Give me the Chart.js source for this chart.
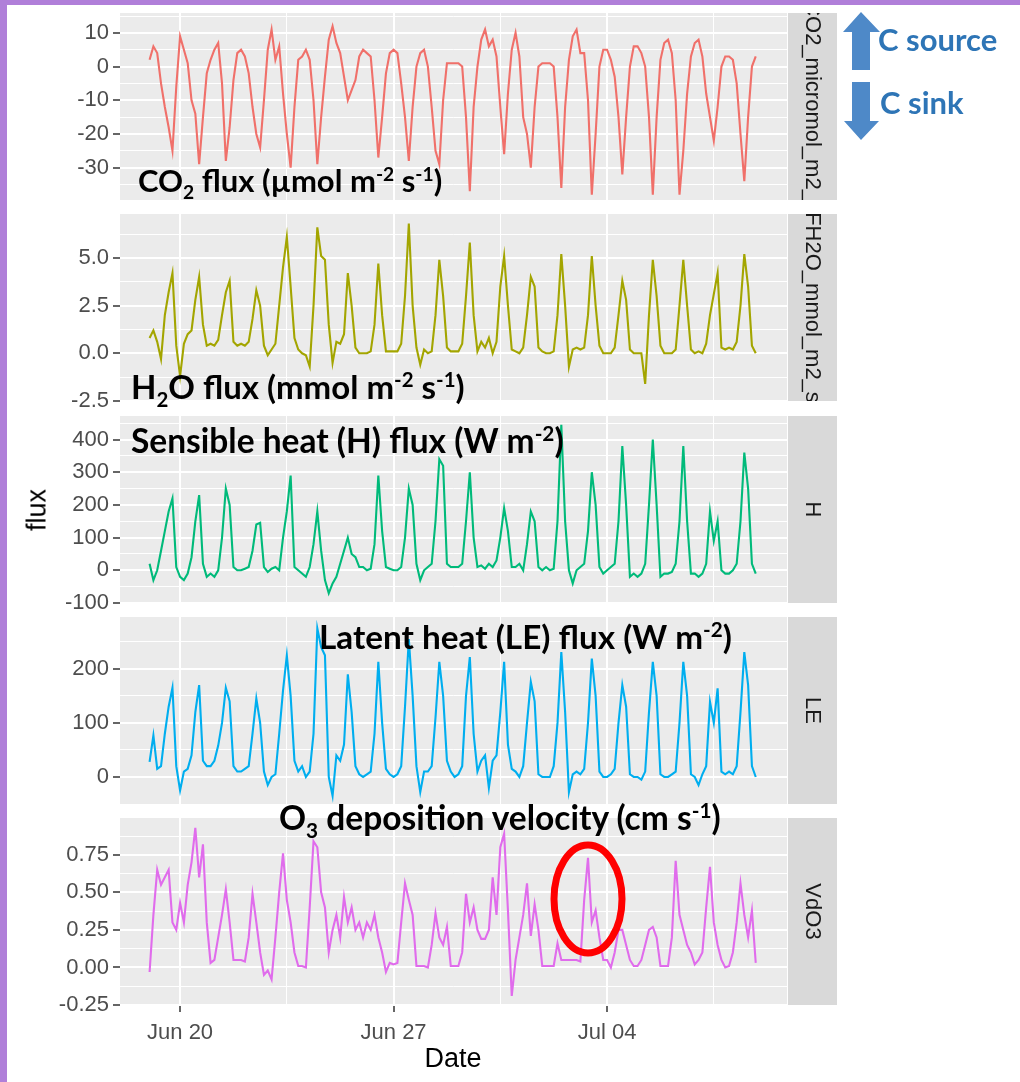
<!DOCTYPE html>
<html>
<head>
<meta charset="utf-8">
<script src="https://cdn.jsdelivr.net/npm/chart.js@4.4.1/dist/chart.umd.min.js"></script>
<style>
  html, body { margin: 0; padding: 0; background: #ffffff; }
  body { width: 1020px; height: 1082px; position: relative; overflow: hidden; font-family: "Liberation Sans", Arial, sans-serif; }
  canvas.cv { position: absolute; left: 0; }
  .ann { position: absolute; font-family: Lato, "Open Sans", sans-serif; font-weight: 700; color: #000; white-space: nowrap; line-height: 1; }
  .ann sub, .ann sup { font-size: 62%; line-height: 0; }
  .axt { position: absolute; font-family: "Liberation Sans", Arial, sans-serif; color: #000; font-size: 27px; line-height: 1; white-space: nowrap; }
</style>
</head>
<body>
<div style="position:absolute;left:0;top:0;width:1020px;height:5px;background:#b07fd9"></div>
<div style="position:absolute;left:0;top:0;width:7px;height:1082px;background:#b07fd9"></div>

<canvas class="cv" id="c0"></canvas>
<canvas class="cv" id="c1"></canvas>
<canvas class="cv" id="c2"></canvas>
<canvas class="cv" id="c3"></canvas>
<canvas class="cv" id="c4"></canvas>

<div class="axt" style="left:37px;top:510px;transform:translate(-50%,-50%) rotate(-90deg);">flux</div>
<div class="axt" style="left:453px;top:1058px;transform:translate(-50%,-50%);">Date</div>

<div class="ann" style="left:138px;top:165px;font-size:31px;">CO<sub>2</sub> flux (µmol m<sup>-2</sup> s<sup>-1</sup>)</div>
<div class="ann" style="left:131px;top:370px;font-size:33px;">H<sub>2</sub>O flux (mmol m<sup>-2</sup> s<sup>-1</sup>)</div>
<div class="ann" style="left:131px;top:424px;font-size:33.5px;">Sensible heat (H) flux (W m<sup>-2</sup>)</div>
<div class="ann" style="left:319px;top:620px;font-size:33.3px;">Latent heat (LE) flux (W m<sup>-2</sup>)</div>
<div class="ann" style="left:279px;top:801px;font-size:33.5px;">O<sub>3</sub> deposition velocity (cm s<sup>-1</sup>)</div>
<div class="ann" style="left:878px;top:24px;font-size:31px;color:#2e75b6;">C source</div>
<div class="ann" style="left:880px;top:87px;font-size:31px;color:#2e75b6;">C sink</div>

<svg width="1020" height="1082" style="position:absolute;left:0;top:0;pointer-events:none">
  <polygon points="861,12 880,32 870,32 870,70 852,70 852,32 843,32" fill="#4e89c8"/>
  <polygon points="852,82 870,82 870,121 879,121 861,140 844,121 852,121" fill="#4e89c8"/>
  <ellipse cx="588" cy="899" rx="34" ry="54" fill="none" stroke="#ff0000" stroke-width="7"/>
</svg>

<script>
// ---------------- data ----------------
// Samples every 3 hours, starting Jun 19 00:00 (x = day of June), ending Jul 08 21:00
const startDay = 19;
const stepDays = 3 / 24;

const xTickValues = [20, 27, 34];
const xTickLabels = ['Jun 20', 'Jun 27', 'Jul 04'];

// CO2 flux (micromol m-2 s-1), 8 values per day
const co2 = [
  2, 6, 4, -5, -12, -18, -25, -6,      // Jun 19
  9, 5, 1, -10, -14, -29, -15, -2,     // Jun 20
  2, 5, 7, -5, -28, -18, -4, 4,        // Jun 21
  5, 3, -2, -12, -20, -24, -10, 5,     // Jun 22
  11, 2, 6, -8, -20, -30, -12, 2,      // Jun 23
  3, 5, 2, -10, -29, -15, -3, 8,       // Jun 24
  12, 7, 4, -3, -10, -7, -4, 3,        // Jun 25
  5, 4, 3, -10, -27, -15, -2, 4,       // Jun 26
  5, 4, -5, -15, -28, -12, 0, 4,       // Jun 27
  5, 0, -12, -25, -29, -10, 1, 1,      // Jun 28
  1, 1, 0, -15, -37, -12, 0, 8,        // Jun 29
  11, 6, 8, 3, -12, -26, -8, 5,        // Jun 30
  10, 3, -15, -20, -30, -12, 0, 1,     // Jul 01
  1, 1, 0, -15, -36, -12, 2, 9,        // Jul 02
  11, 4, 4, -10, -38, -20, 0, 5,       // Jul 03
  5, 2, -3, -15, -32, -15, 0, 6,       // Jul 04
  6, 4, 0, -15, -38, -15, 2, 7,        // Jul 05
  8, 4, -10, -38, -25, -8, 3, 7,       // Jul 06
  8, 3, -8, -15, -22, -12, 0, 3,       // Jul 07
  3, 2, -5, -20, -34, -15, 0, 3        // Jul 08
];

// H2O flux (mmol m-2 s-1)
const h2o = [
  0.8, 1.2, 0.6, -0.3, 2.0, 3.2, 4.2, 0.4,
  -1.2, 0.5, 1.0, 1.2, 2.8, 4.0, 1.5, 0.4,
  0.5, 0.4, 0.7, 2.0, 3.2, 3.8, 0.6, 0.4,
  0.5, 0.4, 0.6, 1.8, 3.3, 2.5, 0.4, -0.1,
  0.2, 0.5, 2.5, 4.5, 6.1, 3.5, 0.8, 0.2,
  0.0, -0.1, -0.7, 2.5, 6.6, 5.1, 4.9, 1.5,
  -0.5, 0.6, 0.5, 1.0, 4.2, 2.5, 0.3, 0.0,
  0.0, 0.0, 0.1, 1.5, 4.7, 2.0, 0.1, 0.1,
  0.1, 0.1, 0.5, 3.0, 6.8, 2.5, 0.3, -0.6,
  0.2, 0.0, 0.1, 2.0, 4.9, 3.0, 0.3, 0.1,
  0.1, 0.1, 0.5, 3.0, 5.8, 2.0, 0.1, 0.6,
  0.3, 0.8, 0.0, 0.6, 3.5, 5.1, 2.5, 0.2,
  0.1, 0.0, 0.3, 2.0, 4.0, 3.5, 0.3, 0.1,
  0.0, 0.0, 0.1, 2.0, 5.2, 2.5, -0.7, 0.2,
  0.3, 0.2, 0.3, 2.0, 5.1, 2.5, 0.4, 0.0,
  0.0, 0.0, 0.3, 2.0, 3.8, 2.8, 0.2, 0.0,
  0.0, 0.0, -1.6, 2.0, 4.9, 3.0, 0.4, 0.0,
  0.0, 0.0, 0.2, 2.5, 4.9, 2.5, 0.2, 0.0,
  0.1, 0.0, 0.5, 2.0, 3.1, 4.2, 0.3, 0.2,
  0.3, 0.2, 0.6, 2.5, 5.2, 3.5, 0.4, 0.0
];

// Sensible heat H (W m-2)
const sensH = [
  20, -30, 0, 60, 120, 180, 220, 10,
  -20, -30, -10, 40, 150, 230, 20, -20,
  -10, -20, 0, 100, 250, 200, 10, 0,
  0, 5, 10, 60, 140, 145, 10, -5,
  5, 10, 0, 100, 180, 290, 10, 0,
  -10, -20, 10, 80, 180, 60, -30, -70,
  -40, -20, 20, 60, 100, 50, 40, 10,
  10, 0, 5, 80, 290, 120, 10, 5,
  0, 0, 10, 100, 250, 200, 20, -30,
  0, 10, 20, 150, 340, 320, 20, 10,
  10, 10, 20, 150, 300, 100, 10, 15,
  5, 20, 10, 30, 100, 190, 120, 10,
  10, 20, 0, 80, 180, 150, 10, 0,
  10, 0, 5, 150, 445, 150, 0, -40,
  0, 10, 20, 120, 300, 200, 10, -10,
  0, 10, 20, 150, 380, 200, -20, -10,
  -20, -10, 20, 200, 400, 200, -20, -10,
  -10, -5, 20, 150, 380, 150, -10, -10,
  -20, -10, 20, 180, 90, 150, 0, -10,
  -10, 0, 20, 150, 360, 250, 20, -10
];

// Latent heat LE (W m-2)
const latentLE = [
  28, 77, 15, 20, 80, 130, 165, 20,
  -25, 10, 15, 40, 120, 170, 30, 20,
  20, 30, 58, 100, 165, 140, 20, 10,
  10, 15, 20, 80, 145, 100, 10, -15,
  0, 5, 80, 160, 225, 150, 30, 10,
  20, 0, 10, 80, 275, 240, 225, 0,
  -35, 40, 30, 60, 190, 120, 20, 5,
  0, 5, 10, 80, 213, 100, 15, 5,
  0, 5, 20, 130, 255, 150, 20, -28,
  10, 10, 20, 110, 213, 150, 30, 10,
  0, 5, 20, 150, 222, 80, 10, 30,
  40, -20, 30, 40, 120, 213, 60, 15,
  10, 0, 20, 100, 176, 140, 5, 0,
  0, 0, 20, 100, 231, 120, -28, 5,
  10, 5, 15, 100, 219, 150, 10, 0,
  0, 5, 15, 100, 170, 130, 5, 0,
  0, -5, 10, 120, 213, 150, 5, 0,
  0, 5, 10, 100, 213, 150, 5, 0,
  -15, 5, 20, 139, 100, 164, 10, 5,
  10, 5, 20, 120, 231, 170, 20, 0
];

// O3 deposition velocity VdO3 (cm s-1)
const vdO3 = [
  -0.03, 0.35, 0.65, 0.55, 0.60, 0.65, 0.30, 0.25,
  0.43, 0.30, 0.55, 0.70, 0.93, 0.60, 0.82, 0.30,
  0.03, 0.05, 0.20, 0.35, 0.52, 0.30, 0.05, 0.05,
  0.05, 0.04, 0.20, 0.49, 0.30, 0.10, -0.05, -0.02,
  -0.08, 0.20, 0.50, 0.76, 0.45, 0.30, 0.10, 0.01,
  0.01, 0.00, 0.40, 0.84, 0.80, 0.50, 0.40, 0.10,
  0.25, 0.35, 0.20, 0.47, 0.30, 0.40, 0.25, 0.30,
  0.20, 0.30, 0.25, 0.35, 0.20, 0.10, -0.03, 0.03,
  0.02, 0.03, 0.30, 0.56, 0.45, 0.35, 0.01, 0.01,
  0.01, 0.00, 0.15, 0.36, 0.20, 0.15, 0.27, 0.01,
  0.01, 0.01, 0.10, 0.49, 0.30, 0.40, 0.25, 0.19,
  0.19, 0.25, 0.60, 0.35, 0.80, 0.89, 0.38, -0.19,
  0.05, 0.20, 0.35, 0.56, 0.21, 0.42, 0.25, 0.01,
  0.01, 0.01, 0.01, 0.16, 0.05, 0.05, 0.05, 0.05,
  0.05, 0.04, 0.45, 0.73, 0.30, 0.38, 0.20, 0.05,
  0.05, 0.00, 0.10, 0.25, 0.25, 0.15, 0.05, 0.01,
  0.01, 0.05, 0.15, 0.25, 0.27, 0.20, 0.01, 0.01,
  0.01, 0.20, 0.71, 0.35, 0.25, 0.15, 0.10, 0.02,
  0.05, 0.10, 0.40, 0.67, 0.30, 0.15, 0.05, 0.00,
  0.01, 0.10, 0.30, 0.56, 0.35, 0.20, 0.38, 0.03
];

// y tick values / labels per facet
const co2Ticks = [-30, -20, -10, 0, 10];
const co2Labels = ['-30', '-20', '-10', '0', '10'];
const h2oTicks = [-2.5, 0, 2.5, 5];
const h2oLabels = ['-2.5', '0.0', '2.5', '5.0'];
const hTicks = [-100, 0, 100, 200, 300, 400];
const hLabels = ['-100', '0', '100', '200', '300', '400'];
const leTicks = [0, 100, 200];
const leLabels = ['0', '100', '200'];
const vdTicks = [-0.25, 0, 0.25, 0.5, 0.75];
const vdLabels = ['-0.25', '0.00', '0.25', '0.50', '0.75'];

const stripLabels = ['CO2_micromol_m2_s', 'FH2O_mmol_m2_s', 'H', 'LE', 'VdO3'];
const seriesColors = ['#F0706A', '#A3A500', '#00BA7A', '#00AEEF', '#E06CEC'];

// ---------------- layout ----------------
const PANEL_L = 120, PANEL_R = 787, STRIP_W = 50, PAD = 22, XAXIS_H = 58;
const X_MIN = 18.03, X_MAX = 39.9;
const FONT = '"Liberation Sans", Arial, sans-serif';

const panels = [
  { values: co2, ticks: co2Ticks, labels: co2Labels, min: -39.6, max: 15.9, top: 13, bottom: 200 },
  { values: h2o, ticks: h2oTicks, labels: h2oLabels, min: -2.5, max: 7.3, top: 214, bottom: 401 },
  { values: sensH, ticks: hTicks, labels: hLabels, min: -100, max: 472, top: 416, bottom: 603 },
  { values: latentLE, ticks: leTicks, labels: leLabels, min: -50, max: 296, top: 617, bottom: 804 },
  { values: vdO3, ticks: vdTicks, labels: vdLabels, min: -0.25, max: 0.995, top: 818, bottom: 1005 }
];

function withMinors(majors, lo, hi) {
  const step = majors[1] - majors[0];
  const all = majors.slice();
  all.push(majors[0] - step / 2);
  majors.forEach(v => all.push(v + step / 2));
  return all.filter(v => v >= lo - 1e-9 && v <= hi + 1e-9).sort((a, b) => a - b);
}
function isIn(arr, v) { return arr.some(m => Math.abs(m - v) < 1e-9); }

const xAll = withMinors(xTickValues, X_MIN, X_MAX);

const panelBg = {
  id: 'panelBg',
  beforeDraw(chart) {
    const a = chart.chartArea, ctx = chart.ctx;
    ctx.save();
    ctx.fillStyle = '#ebebeb';
    ctx.fillRect(a.left, a.top, a.right - a.left, a.bottom - a.top);
    ctx.restore();
  }
};
const stripPlugin = {
  id: 'strip',
  afterDraw(chart, args, opts) {
    const a = chart.chartArea, ctx = chart.ctx;
    const x0 = a.right + 1, h = a.bottom - a.top;
    ctx.save();
    ctx.fillStyle = '#d9d9d9';
    ctx.fillRect(x0, a.top, STRIP_W - 1, h);
    ctx.beginPath();
    ctx.rect(x0, a.top, STRIP_W - 1, h);
    ctx.clip();
    ctx.translate(x0 + (STRIP_W - 1) / 2, a.top + h / 2);
    ctx.rotate(Math.PI / 2);
    ctx.fillStyle = '#1a1a1a';
    ctx.font = '22px ' + FONT;
    ctx.textAlign = 'center';
    ctx.textBaseline = 'middle';
    ctx.fillText(opts.text, 0, 0);
    ctx.restore();
  }
};

panels.forEach((p, i) => {
  const last = i === panels.length - 1;
  const cv = document.getElementById('c' + i);
  const h = (p.bottom - p.top) + PAD + (last ? XAXIS_H : PAD);
  cv.width = 1020; cv.height = h;
  cv.style.width = '1020px'; cv.style.height = h + 'px';
  cv.style.top = (p.top - PAD) + 'px';
  const yAll = withMinors(p.ticks, p.min, p.max);
  const data = p.values.map((v, k) => ({ x: startDay + k * stepDays, y: v }));

  new Chart(cv.getContext('2d'), {
    type: 'line',
    data: { datasets: [{ data, borderColor: seriesColors[i], borderWidth: 2.1, pointRadius: 0, tension: 0, fill: false }] },
    options: {
      animation: false, responsive: false, maintainAspectRatio: false,
      events: [],
      layout: { padding: { left: 0, right: 1020 - PANEL_R, top: PAD, bottom: last ? 0 : PAD } },
      plugins: { legend: { display: false }, tooltip: { enabled: false }, strip: { text: stripLabels[i] } },
      scales: {
        x: {
          type: 'linear', min: X_MIN, max: X_MAX,
          afterBuildTicks: s => { s.ticks = xAll.map(v => ({ value: v })); },
          afterFit: s => { s.height = last ? XAXIS_H : 0; },
          ticks: {
            display: last, autoSkip: false, maxRotation: 0, minRotation: 0, padding: 8,
            color: '#4d4d4d', font: { family: FONT, size: 22 },
            callback: v => { const k = xTickValues.findIndex(m => Math.abs(m - v) < 1e-9); return k >= 0 ? xTickLabels[k] : ''; }
          },
          grid: {
            color: '#ffffff', drawTicks: last, tickLength: 7,
            lineWidth: c => (c.tick && isIn(xTickValues, c.tick.value)) ? 2 : 1,
            tickColor: c => (c.tick && isIn(xTickValues, c.tick.value)) ? '#333333' : 'rgba(0,0,0,0)',
            tickWidth: 1.5
          },
          border: { display: false }
        },
        y: {
          type: 'linear', min: p.min, max: p.max,
          afterBuildTicks: s => { s.ticks = yAll.map(v => ({ value: v })); },
          afterFit: s => { s.width = PANEL_L; },
          ticks: {
            autoSkip: false, padding: 4, color: '#4d4d4d', font: { family: FONT, size: 22 },
            callback: v => { const k = p.ticks.findIndex(m => Math.abs(m - v) < 1e-9); return k >= 0 ? p.labels[k] : ''; }
          },
          grid: {
            color: '#ffffff', drawTicks: true, tickLength: 7,
            lineWidth: c => (c.tick && isIn(p.ticks, c.tick.value)) ? 2 : 1,
            tickColor: c => (c.tick && isIn(p.ticks, c.tick.value)) ? '#333333' : 'rgba(0,0,0,0)',
            tickWidth: 1.5
          },
          border: { display: false }
        }
      }
    },
    plugins: [panelBg, stripPlugin]
  });
});
</script>
</body>
</html>
